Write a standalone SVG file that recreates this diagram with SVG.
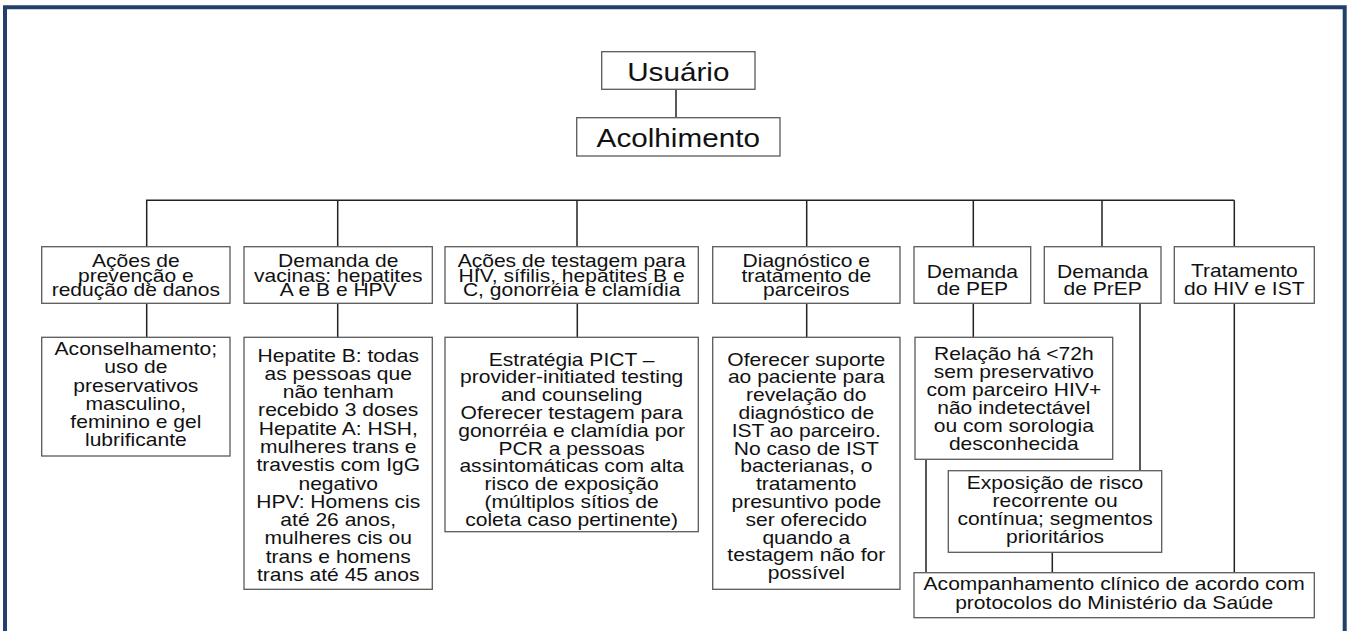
<svg xmlns="http://www.w3.org/2000/svg" width="1350" height="631" viewBox="0 0 1350 631">
<style>
.box{fill:#fff;stroke:#5a5a5a;stroke-width:1.3}
.t{font-family:"Liberation Sans",Arial,Helvetica,sans-serif;font-size:18.8px;fill:#111;text-anchor:middle}
.big{font-size:26.5px}
.c{stroke:#222;stroke-width:1.5;fill:none}
.frame{stroke:#22406a;stroke-width:4;fill:none}
</style>
<rect width="1350" height="631" fill="#fff"/>
<path class="frame" d="M5,631 V7.3 H1344.7 V631"/>
<g id="connectors">
<path class="c" d="M676,89.3 V117.7"/>
<path class="c" d="M146,200.3 H1234.3"/>
<path class="c" d="M146.7,200.3 V246.7 M337.7,200.3 V246.7 M577,200.3 V246.7 M806.7,200.3 V246.7 M973.3,200.3 V246.7 M1102,200.3 V246.7 M1234.3,200.3 V246.7"/>
<path class="c" d="M146.7,303.3 V337.3 M337.7,303.3 V337.3 M577.3,303.3 V337.3 M806.7,303.3 V337.3 M973.3,303.3 V337.3"/>
<path class="c" d="M1140,303.3 V470.7 M1234.3,303.3 V572.7 M926,459.3 V572.7 M1052.3,552.3 V572.7"/>
</g>
<g id="usuario">
<rect class="box" x="601.7" y="51.7" width="153.3" height="37.6"/>
<text class="t big" transform="scale(1.12,1)" x="605.6" y="81">Usuário</text>
</g>
<g id="acolhimento">
<rect class="box" x="576.7" y="117.7" width="203.3" height="38.3"/>
<text class="t big" transform="scale(1.12,1)" x="605.6" y="146.7">Acolhimento</text>
</g>
<g id="prevencao">
<rect class="box" x="41.7" y="246.7" width="188.3" height="56.6"/>
<text class="t" transform="scale(1.12,1)"><tspan x="121.3" y="267.5">Ações de</tspan><tspan x="121.3" y="281.8">prevenção e</tspan><tspan x="121.3" y="296">redução de danos</tspan></text>
</g>
<g id="vacinas">
<rect class="box" x="244" y="246.7" width="188.3" height="56.6"/>
<text class="t" transform="scale(1.12,1)"><tspan x="302" y="267.5">Demanda de</tspan><tspan x="302" y="281.8">vacinas: hepatites</tspan><tspan x="302" y="296">A e B e HPV</tspan></text>
</g>
<g id="testagem">
<rect class="box" x="445" y="246.7" width="253.3" height="56.6"/>
<text class="t" transform="scale(1.12,1)"><tspan x="510.4" y="267.5">Ações de testagem para</tspan><tspan x="510.4" y="281.8">HIV, sífilis, hepatites B e</tspan><tspan x="510.4" y="296">C, gonorréia e clamídia</tspan></text>
</g>
<g id="parceiros">
<rect class="box" x="712.7" y="246.7" width="187.3" height="56.6"/>
<text class="t" transform="scale(1.12,1)"><tspan x="719.9" y="267.5">Diagnóstico e</tspan><tspan x="719.9" y="281.8">tratamento de</tspan><tspan x="719.9" y="296">parceiros</tspan></text>
</g>
<g id="pep">
<rect class="box" x="914" y="246.7" width="116.7" height="56.6"/>
<text class="t" transform="scale(1.12,1)"><tspan x="868.2" y="278.3">Demanda</tspan><tspan x="868.2" y="295">de PEP</tspan></text>
</g>
<g id="prep">
<rect class="box" x="1044.3" y="246.7" width="116.7" height="56.6"/>
<text class="t" transform="scale(1.12,1)"><tspan x="984.5" y="278.3">Demanda</tspan><tspan x="984.5" y="295">de PrEP</tspan></text>
</g>
<g id="tratamento">
<rect class="box" x="1174.3" y="246.7" width="140" height="56.6"/>
<text class="t" transform="scale(1.12,1)"><tspan x="1111" y="277">Tratamento</tspan><tspan x="1111" y="295">do HIV e IST</tspan></text>
</g>
<g id="aconselhamento">
<rect class="box" x="41.7" y="337.3" width="188.3" height="118.7"/>
<text class="t" transform="scale(1.12,1)"><tspan x="121.3" y="355">Aconselhamento;</tspan><tspan x="121.3" y="373.3">uso de</tspan><tspan x="121.3" y="391.6">preservativos</tspan><tspan x="121.3" y="409.9">masculino,</tspan><tspan x="121.3" y="428.2">feminino e gel</tspan><tspan x="121.3" y="446.5">lubrificante</tspan></text>
</g>
<g id="hepatites">
<rect class="box" x="244" y="337.3" width="188.3" height="252"/>
<text class="t" transform="scale(1.12,1)"><tspan x="302" y="361.7">Hepatite B: todas</tspan><tspan x="302" y="380">as pessoas que</tspan><tspan x="302" y="398.2">não tenham</tspan><tspan x="302" y="416.5">recebido 3 doses</tspan><tspan x="302" y="434.8">Hepatite A: HSH,</tspan><tspan x="302" y="453">mulheres trans e</tspan><tspan x="302" y="471.3">travestis com IgG</tspan><tspan x="302" y="489.6">negativo</tspan><tspan x="302" y="507.9">HPV: Homens cis</tspan><tspan x="302" y="526.1">até 26 anos,</tspan><tspan x="302" y="544.4">mulheres cis ou</tspan><tspan x="302" y="562.7">trans e homens</tspan><tspan x="302" y="581">trans até 45 anos</tspan></text>
</g>
<g id="pict">
<rect class="box" x="445" y="337.3" width="253.3" height="194.4"/>
<text class="t" transform="scale(1.12,1)"><tspan x="510.4" y="365.7">Estratégia PICT –</tspan><tspan x="510.4" y="383.5">provider-initiated testing</tspan><tspan x="510.4" y="401.3">and counseling</tspan><tspan x="510.4" y="419.1">Oferecer testagem para</tspan><tspan x="510.4" y="436.9">gonorréia e clamídia por</tspan><tspan x="510.4" y="454.7">PCR a pessoas</tspan><tspan x="510.4" y="472.5">assintomáticas com alta</tspan><tspan x="510.4" y="490.3">risco de exposição</tspan><tspan x="510.4" y="508.1">(múltiplos sítios de</tspan><tspan x="510.4" y="525.9">coleta caso pertinente)</tspan></text>
</g>
<g id="suporte">
<rect class="box" x="712.7" y="337.3" width="187.3" height="252"/>
<text class="t" transform="scale(1.12,1)"><tspan x="719.9" y="365.7">Oferecer suporte</tspan><tspan x="719.9" y="383.5">ao paciente para</tspan><tspan x="719.9" y="401.3">revelação do</tspan><tspan x="719.9" y="419.1">diagnóstico de</tspan><tspan x="719.9" y="436.9">IST ao parceiro.</tspan><tspan x="719.9" y="454.7">No caso de IST</tspan><tspan x="719.9" y="472.5">bacterianas, o</tspan><tspan x="719.9" y="490.3">tratamento</tspan><tspan x="719.9" y="508.1">presuntivo pode</tspan><tspan x="719.9" y="525.9">ser oferecido</tspan><tspan x="719.9" y="543.7">quando a</tspan><tspan x="719.9" y="561.5">testagem não for</tspan><tspan x="719.9" y="579.3">possível</tspan></text>
</g>
<g id="relacao">
<rect class="box" x="915" y="337.3" width="197.7" height="122"/>
<text class="t" transform="scale(1.12,1)"><tspan x="905.2" y="360">Relação há &lt;72h</tspan><tspan x="905.2" y="378">sem preservativo</tspan><tspan x="905.2" y="396">com parceiro HIV+</tspan><tspan x="905.2" y="414">não indetectável</tspan><tspan x="905.2" y="432">ou com sorologia</tspan><tspan x="905.2" y="450">desconhecida</tspan></text>
</g>
<g id="exposicao">
<rect class="box" x="948.3" y="470.7" width="213.4" height="81.6"/>
<text class="t" transform="scale(1.12,1)"><tspan x="942" y="489.3">Exposição de risco</tspan><tspan x="942" y="507.3">recorrente ou</tspan><tspan x="942" y="525.3">contínua; segmentos</tspan><tspan x="942" y="543.3">prioritários</tspan></text>
</g>
<g id="acompanhamento">
<rect class="box" x="914" y="572.7" width="400.3" height="45"/>
<text class="t" transform="scale(1.12,1)"><tspan x="994.8" y="590.5">Acompanhamento clínico de acordo com</tspan><tspan x="994.8" y="609.3">protocolos do Ministério da Saúde</tspan></text>
</g>
</svg>
